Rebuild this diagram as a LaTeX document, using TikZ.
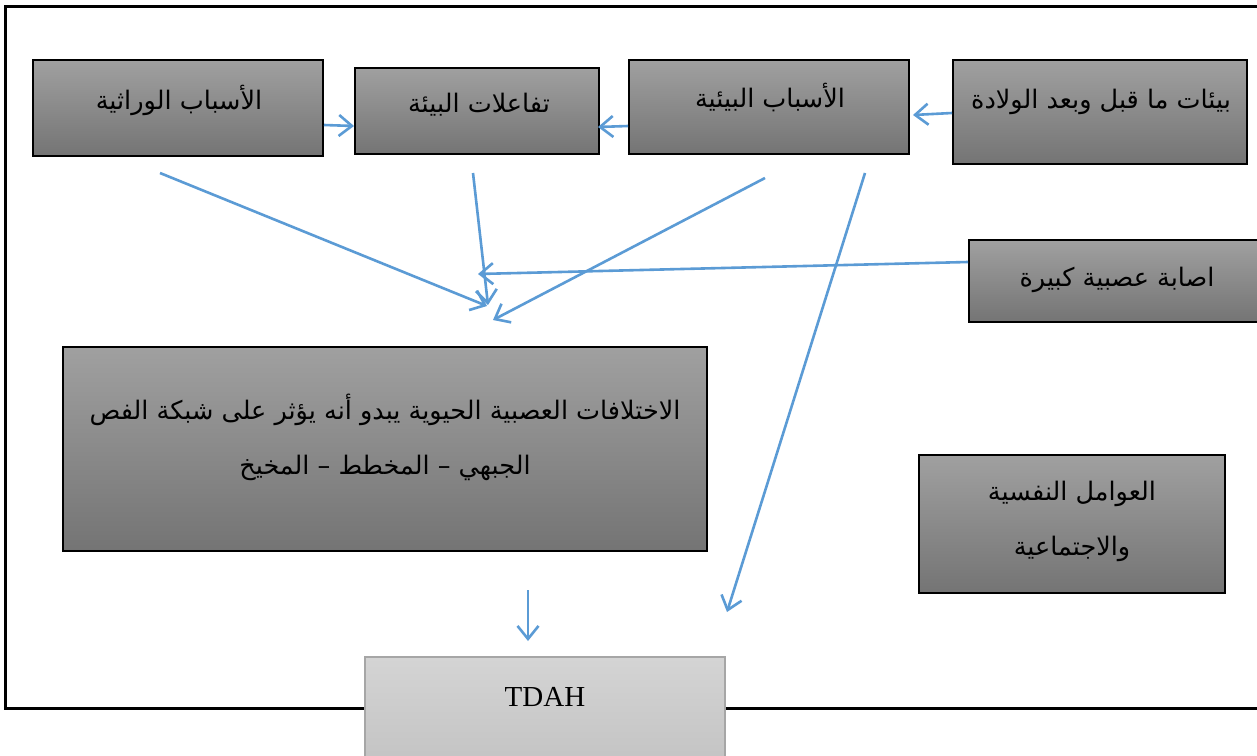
\documentclass[tikz,border=0pt]{standalone}
\usepackage{fontspec}
\usetikzlibrary{arrows.meta,calc}
\setmainfont{Liberation Serif}
\newfontfamily\arabicfont[Script=Arabic]{DejaVu Sans}
\TeXXeTstate=1
\definecolor{arrowblue}{RGB}{91,155,213}
\definecolor{boxtop}{RGB}{160,160,160}
\definecolor{boxbot}{RGB}{116,116,116}
\definecolor{tdahtop}{RGB}{212,212,212}
\definecolor{tdahbot}{RGB}{190,190,190}
\definecolor{tdahline}{RGB}{166,166,166}
\begin{document}
\begin{tikzpicture}[x=1pt,y=-1pt,
  gbox/.style={draw=black,line width=2pt,top color=boxtop,bottom color=boxbot,inner sep=0pt},
  lbox/.style={draw=tdahline,line width=1.2pt,top color=tdahtop,bottom color=tdahbot,inner sep=0pt},
  atext/.style={font=\arabicfont\fontsize{25.5}{55}\selectfont,align=center,inner sep=0pt},
  ltext/.style={font=\fontsize{29}{34}\selectfont,inner sep=0pt},
  conn/.style={draw=arrowblue,line width=2.6pt,-{Straight Barb[length=13pt,width=21pt,line width=2.6pt]}}]
\useasboundingbox (0,0) rectangle (1257,755);
\fill[white] (0,0) rectangle (1257,755);
\begin{scope}
\clip (0,0) rectangle (1257,755);
\draw[line width=3pt] (5,6) rectangle (1265,708);
% boxes
\node[gbox,minimum width=290pt,minimum height=96pt] (b1) at (178,108) {};
\node[gbox,minimum width=244pt,minimum height=86pt] (b2) at (477,111) {};
\node[gbox,minimum width=280pt,minimum height=94pt] (b3) at (769,107) {};
\node[gbox,minimum width=294pt,minimum height=104pt] (b4) at (1100,112) {};
\node[gbox,minimum width=301pt,minimum height=82pt] (b5) at (1119.5,281) {};
\node[gbox,minimum width=644pt,minimum height=204pt] (b6) at (385,449) {};
\node[gbox,minimum width=306pt,minimum height=138pt] (b7) at (1072,524) {};
\node[lbox,minimum width=360pt,minimum height=142pt] (b8) at (545,728) {};
% texts
\node[atext] (t1) at (179,100) {\beginR الأسباب الوراثية\endR};
\node[atext] (t2) at (479,105) {\beginR تفاعلات البيئة\endR};
\node[atext] (t3) at (770,98) {\beginR الأسباب البيئية\endR};
\node[atext] (t4) at (1101,102) {\beginR بيئات ما قبل وبعد الولادة\endR};
\node[atext] (t5) at (1117,280) {\beginR اصابة عصبية كبيرة\endR};
\node[atext] (t6) at (385,437) {\beginR الاختلافات العصبية الحيوية يبدو أنه يؤثر على شبكة الفص\endR\\\beginR الجبهي – المخطط – المخيخ\endR};
\node[atext] (t7) at (1072,521) {\beginR العوامل النفسية\endR\\\beginR والاجتماعية\endR};
\node[ltext] (t8) at (545,697) {TDAH};
% free ends
\coordinate (s4) at (160,173);
\coordinate (e4) at (487,306);
\coordinate (s5) at (473,173);
\coordinate (e5) at (488,305);
\coordinate (s6) at (765,178);
\coordinate (e6) at (493,320);
\coordinate (e7) at (478,274);
\coordinate (s8) at (865,173);
\coordinate (e8) at (727,612);
\coordinate (s9) at (528,590);
\coordinate (e9) at (528,641);
% connectors
\draw[conn] ([yshift=-17pt]b1.east) -- ([yshift=-15pt]b2.west);
\draw[conn] ([yshift=-19pt]b3.west) -- ([xshift=-2pt,yshift=-16pt]b2.east);
\draw[conn] ([yshift=-1pt]b4.west) -- ([xshift=3pt,yshift=-8pt]b3.east);
\draw[conn] (s4) -- (e4);
\draw[conn] (s5) -- (e5);
\draw[conn] (s6) -- (e6);
\draw[conn] ([yshift=19pt]b5.west) -- (e7);
\draw[conn] (s8) -- (e8);
\draw[conn] (s9) -- (e9);
\end{scope}
\end{tikzpicture}
\end{document}
